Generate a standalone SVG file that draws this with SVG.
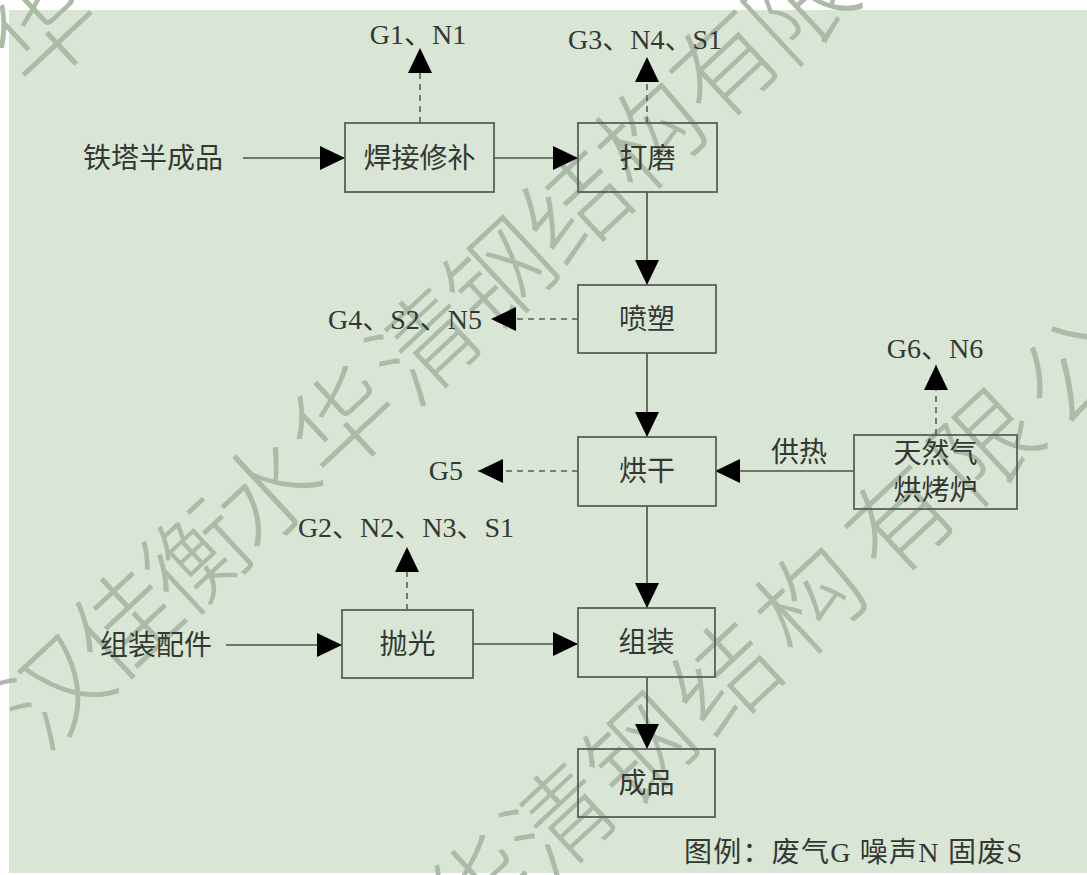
<svg xmlns="http://www.w3.org/2000/svg" width="1087" height="875" viewBox="0 0 1087 875">
<style>
.bg{fill:#d9e6d5}
.wm{font-family:"Noto Sans CJK SC",sans-serif;font-size:104px;font-weight:200;fill:#abbba8;text-anchor:middle;dominant-baseline:central}
.box{fill:none;stroke:#5a5f5a;stroke-width:1.8}
.t{font-family:"Liberation Serif","Noto Sans CJK SC",serif;font-size:28px;fill:#333833}
.c{text-anchor:middle}
.e{text-anchor:end}
.ln{fill:none;stroke:#4a4f4a;stroke-width:1.6}
.ds{fill:none;stroke:#5a5f5a;stroke-width:1.6;stroke-dasharray:6 5}
</style>
<defs>
<marker id="ah" markerUnits="userSpaceOnUse" markerWidth="26" markerHeight="26" refX="25" refY="12" orient="auto" viewBox="0 0 26 26">
<path d="M0,0 L25,12 L0,24 Z" fill="#000"/>
</marker>
</defs>
<rect x="0" y="0" width="1087" height="875" fill="#ffffff"/>
<rect class="bg" x="9" y="10" width="1078" height="863"/>
<g id="watermark">
<text class="wm" transform="translate(50,685) rotate(-43)">汉</text>
<text class="wm" transform="translate(120,618) rotate(-43)">佳</text>
<text class="wm" transform="translate(192,552) rotate(-43)">衡</text>
<text class="wm" transform="translate(262,486) rotate(-43)">水</text>
<text class="wm" transform="translate(338,416) rotate(-43)">华</text>
<text class="wm" transform="translate(420,340) rotate(-43)">清</text>
<text class="wm" transform="translate(495,270) rotate(-43)">钢</text>
<text class="wm" transform="translate(570,200) rotate(-43)">结</text>
<text class="wm" transform="translate(645,130) rotate(-43)">构</text>
<text class="wm" transform="translate(720,60) rotate(-43)">有</text>
<text class="wm" transform="translate(795,0) rotate(-43)">限</text>
<text class="wm" transform="translate(40,25) rotate(-43)">华</text>
<text class="wm" transform="translate(475,885) rotate(-43)">华</text>
<text class="wm" transform="translate(555,815) rotate(-43)">清</text>
<text class="wm" transform="translate(635,745) rotate(-43)">钢</text>
<text class="wm" transform="translate(720,672) rotate(-43)">结</text>
<text class="wm" transform="translate(805,595) rotate(-43)">构</text>
<text class="wm" transform="translate(895,515) rotate(-43)">有</text>
<text class="wm" transform="translate(980,440) rotate(-43)">限</text>
<text class="wm" transform="translate(1068,365) rotate(-43)">公</text>
</g>
<g id="connectors">
<line class="ln" x1="243" y1="158" x2="345" y2="158" marker-end="url(#ah)"/>
<line class="ln" x1="494" y1="158" x2="578" y2="158" marker-end="url(#ah)"/>
<line class="ds" x1="420" y1="123" x2="420" y2="48" marker-end="url(#ah)"/>
<line class="ds" x1="647" y1="123" x2="647" y2="57" marker-end="url(#ah)"/>
<line class="ln" x1="647" y1="192" x2="647" y2="285" marker-end="url(#ah)"/>
<line class="ds" x1="578" y1="319" x2="491" y2="319" marker-end="url(#ah)"/>
<line class="ln" x1="647" y1="353" x2="647" y2="437" marker-end="url(#ah)"/>
<line class="ds" x1="578" y1="471" x2="478" y2="471" marker-end="url(#ah)"/>
<line class="ln" x1="854" y1="471" x2="715" y2="471" marker-end="url(#ah)"/>
<line class="ds" x1="936" y1="435" x2="936" y2="365" marker-end="url(#ah)"/>
<line class="ln" x1="647" y1="506" x2="647" y2="608" marker-end="url(#ah)"/>
<line class="ln" x1="226" y1="645" x2="342" y2="645" marker-end="url(#ah)"/>
<line class="ds" x1="407" y1="610" x2="407" y2="547" marker-end="url(#ah)"/>
<line class="ln" x1="473" y1="644" x2="578" y2="644" marker-end="url(#ah)"/>
<line class="ln" x1="647" y1="677" x2="647" y2="749" marker-end="url(#ah)"/>
<text class="t" x="799" y="462" text-anchor="middle">供热</text>
</g>
<g id="labels">
<text class="t" x="83" y="168">铁塔半成品</text>
<text class="t" x="100" y="655">组装配件</text>
<text class="t c" x="418" y="44">G1、N1</text>
<text class="t c" x="645" y="49">G3、N4、S1</text>
<text class="t e" x="482" y="329">G4、S2、N5</text>
<text class="t e" x="463" y="480">G5</text>
<text class="t c" x="935" y="358">G6、N6</text>
<text class="t c" x="406" y="537">G2、N2、N3、S1</text>
<text class="t" x="684" y="862" textLength="338" lengthAdjust="spacing">图例：废气G 噪声N 固废S</text>
</g>
<g id="n-hanjie"><rect class="box" x="345" y="123" width="149" height="69"/><text class="t c" x="419.5" y="168">焊接修补</text></g>
<g id="n-damo"><rect class="box" x="578" y="123" width="139" height="69"/><text class="t c" x="647.5" y="168">打磨</text></g>
<g id="n-pensu"><rect class="box" x="578" y="285" width="138" height="68"/><text class="t c" x="647" y="329">喷塑</text></g>
<g id="n-honggan"><rect class="box" x="578" y="437" width="138" height="69"/><text class="t c" x="647" y="481">烘干</text></g>
<g id="n-lu"><rect class="box" x="854" y="435" width="163" height="74"/><text class="t c" x="935.5" y="463">天然气</text><text class="t c" x="935.5" y="500">烘烤炉</text></g>
<g id="n-paoguang"><rect class="box" x="342" y="610" width="131" height="68"/><text class="t c" x="407.5" y="654">抛光</text></g>
<g id="n-zuzhuang"><rect class="box" x="578" y="608" width="137" height="69"/><text class="t c" x="646.5" y="652">组装</text></g>
<g id="n-chengpin"><rect class="box" x="578" y="749" width="137" height="68"/><text class="t c" x="646.5" y="793">成品</text></g>
</svg>
